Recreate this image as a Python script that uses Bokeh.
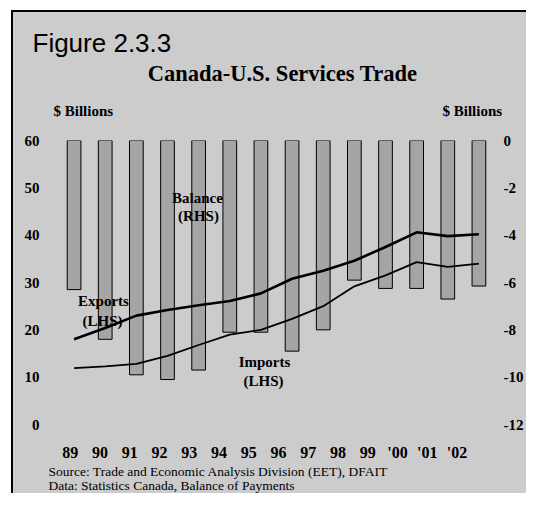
from bokeh.plotting import figure
from bokeh.models import Range1d, LinearAxis, FixedTicker, Label, ColumnDataSource
from bokeh.embed import file_html
from bokeh.resources import INLINE

# ---- data ----
years = ["89", "90", "91", "92", "93", "94", "95", "96", "97", "98", "99", "'00", "'01", "'02"]
exports = [18.0, 20.4, 23.0, 24.2, 25.2, 26.1, 27.7, 30.8, 32.5, 34.6, 37.5, 40.6, 39.8, 40.2]
imports = [11.9, 12.3, 12.8, 14.5, 16.8, 19.0, 20.0, 22.3, 25.0, 29.2, 31.5, 34.3, 33.3, 34.0]
balance = [-6.3, -8.4, -9.9, -10.1, -9.7, -8.1, -8.1, -8.9, -8.0, -5.9, -6.25, -6.25, -6.7, -6.15]
left_ticks = [0, 10, 20, 30, 40, 50, 60]
right_ticks = [0, -2, -4, -6, -8, -10, -12]

BG = "#cccccc"
BAR = "#a5a5a5"
SERIF = "Liberation Serif"
W, H = 526, 493

idx = list(range(len(years)))
src = ColumnDataSource(dict(x=idx, exports=exports, imports=imports, balance=balance))

p = figure(width=W, height=H, x_range=Range1d(-0.5, len(years) - 0.5), y_range=Range1d(0, 60),
           output_backend="svg", toolbar_location=None,
           min_border_left=58, min_border_right=W - 502, min_border_top=140, min_border_bottom=H - 428,
           background_fill_alpha=0, border_fill_alpha=0, outline_line_color=None)
p.extra_y_ranges = {"rhs": Range1d(-12, 0)}
p.xgrid.visible = False
p.ygrid.visible = False

# balance bars on the right-hand scale, trade lines on the left-hand scale
p.vbar(x="x", width=0.44, top=0, bottom="balance", source=src, y_range_name="rhs",
       fill_color=BAR, line_color="black", line_width=1)
p.line(x="x", y="exports", source=src, line_color="black", line_width=2.6)
p.line(x="x", y="imports", source=src, line_color="black", line_width=1.8)

def style_axis(ax, size, standoff):
    ax.axis_line_color = None
    ax.major_tick_line_color = None
    ax.minor_tick_line_color = None
    ax.major_label_text_font = SERIF
    ax.major_label_text_font_style = "bold"
    ax.major_label_text_font_size = size
    ax.major_label_text_color = "black"
    ax.major_label_standoff = standoff

# year labels sit slightly tighter than the bars in the original
xt = [round(-0.12 + 0.955 * i, 4) for i in idx]
xa = p.xaxis[0]
xa.ticker = FixedTicker(ticks=xt)
xa.major_label_overrides = {t: y for t, y in zip(xt, years)}
style_axis(xa, "16px", 13)

ya = p.yaxis[0]
ya.ticker = FixedTicker(ticks=left_ticks)
style_axis(ya, "15px", 13)

ra = LinearAxis(y_range_name="rhs", ticker=FixedTicker(ticks=right_ticks))
ra.major_label_overrides = {t: str(t) for t in right_ticks}
style_axis(ra, "15px", 3)
p.add_layout(ra, "right")

def lab(x, y, text, size, place="center", font=SERIF, style="bold", align="left"):
    lbl = Label(x=x, y=y, x_units="canvas", y_units="canvas", text=text,
                text_font=font, text_font_size=size, text_font_style=style,
                text_align=align, text_baseline="alphabetic", text_color="black")
    if place == "center":
        p.add_layout(lbl)
    else:
        p.add_layout(lbl, place)

# header (in the top panel, so it is not clipped to the plot frame)
lab(32, 42, "Figure 2.3.3", "26px", place="above", font="Liberation Sans", style="normal")
lab(282, 73, "Canada-U.S. Services Trade", "22.5px", place="above", align="center")
lab(53, 110, "$ Billions", "15px", place="above")
lab(442, 110, "$ Billions", "15px", place="above")

# in-chart series labels
lab(197, 197, "Balance", "15px", align="center")
lab(198, 215, "(RHS)", "15px", align="center")
lab(103, 300, "Exports", "15px", align="center")
lab(102, 320, "(LHS)", "15px", align="center")
lab(264, 361, "Imports", "15px", align="center")
lab(263, 380, "(LHS)", "15px", align="center")

# footer
lab(48, 471, "Source: Trade and Economic Analysis Division (EET), DFAIT", "13.5px", place="below", style="normal")
lab(48, 485, "Data: Statistics Canada, Balance of Payments", "13.5px", place="below", style="normal")

# page tone plus the outer box line of the original figure (solid CSS layers)
solid_black = "linear-gradient(#000000, #000000)"
solid_white = "linear-gradient(#ffffff, #ffffff)"
p.styles = {
    "background-color": BG,
    "background-image": f"{solid_black}, {solid_black}, {solid_white}, {solid_white}",
    "background-position": "11px 10px, 11px 10px, 0px 0px, 0px 0px",
    "background-size": "2px 100%, 100% 2px, 11px 100%, 100% 10px",
    "background-repeat": "no-repeat",
}

open("out.html", "w").write(file_html(p, INLINE))
